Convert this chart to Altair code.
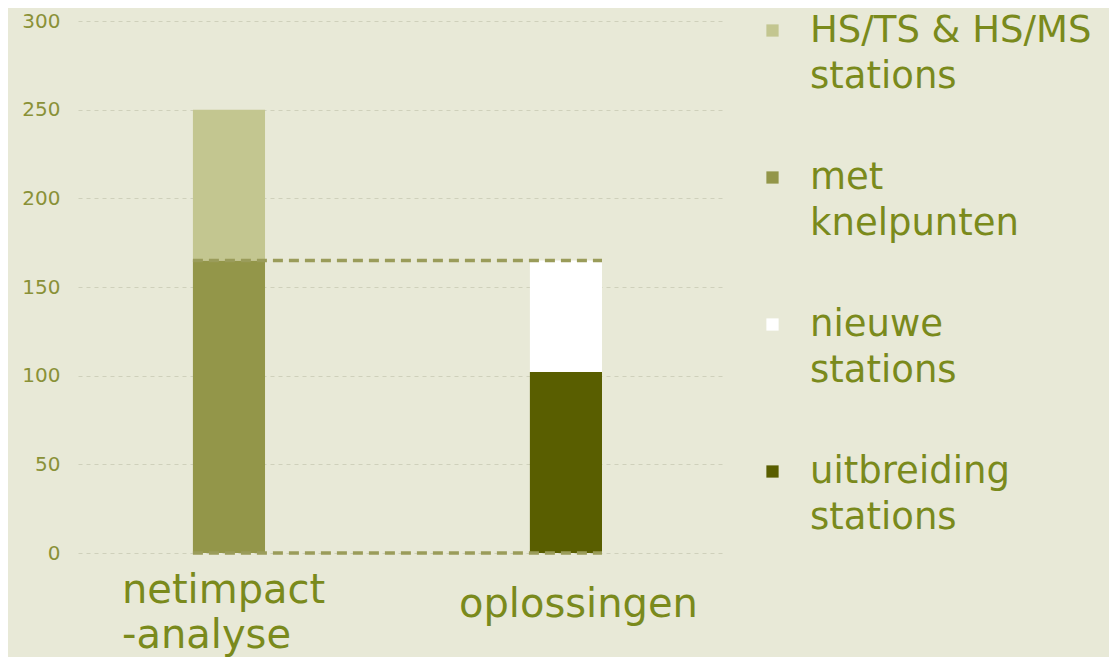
import altair as alt
import pandas as pd

categories = ["netimpact|-analyse", "netimpact|-analyse", "oplossingen", "oplossingen"]
series = ["met|knelpunten", "HS/TS & HS/MS|stations", "uitbreiding|stations", "nieuwe|stations"]
values = [165, 85, 102, 63]
stack_order = [1, 2, 1, 2]

legend_order = ["HS/TS & HS/MS|stations", "met|knelpunten", "nieuwe|stations", "uitbreiding|stations"]
legend_colors = ["#c3c690", "#939649", "#ffffff", "#595e00"]

ref_levels = [165, 0]
ref_start = ["netimpact|-analyse", "netimpact|-analyse"]
ref_end = ["oplossingen", "oplossingen"]

bars_df = pd.DataFrame({"cat": categories, "series": series, "value": values, "ord": stack_order})
ref_df = pd.DataFrame({"y": ref_levels, "x1": ref_start, "x2": ref_end})

cat_order = ["netimpact|-analyse", "oplossingen"]
bg = "#e8e9d7"
text_col = "#7a8a1c"

xscale = alt.Scale(domain=cat_order, paddingInner=0.786, paddingOuter=0.353, align=0.483)
yscale = alt.Scale(domain=[0, 300], nice=False)

bars = alt.Chart(bars_df).mark_bar().encode(
    x=alt.X("cat:N", scale=xscale, sort=cat_order, title=None,
            axis=alt.Axis(labelExpr="split(datum.label, '|')", labelAngle=0,
                          labelFontSize=40, labelColor=text_col, labelAlign="left",
                          labelOffset=-107, labelBaseline="middle",
                          labelPadding={"condition": {"test": "datum.value == 'oplossingen'", "value": 51},
                                        "value": 37},
                          labelLineHeight=45, labelLimit=500, domain=False, ticks=False,
                          grid=False, labelFont="DejaVu Sans")),
    y=alt.Y("value:Q", stack="zero", scale=yscale, title=None,
            axis=alt.Axis(values=[0, 50, 100, 150, 200, 250, 300], labelFontSize=20,
                          labelColor="#8a9137", labelPadding=18, minExtent=50, maxExtent=50,
                          labelLineHeight=22,
                          domain=False, ticks=False, grid=True, gridColor="#cfd0bb",
                          gridDash=[4, 4], gridWidth=1, labelFont="DejaVu Sans")),
    color=alt.Color("series:N", scale=alt.Scale(domain=legend_order, range=legend_colors),
                    legend=alt.Legend(title=None, labelExpr="split(datum.label, '|')",
                                      labelFontSize=37, labelColor=text_col, symbolType="square",
                                      symbolSize=150, symbolStrokeWidth=0, labelBaseline="middle",
                                      orient="none", legendX=676, legendY=-9, rowPadding=63,
                                      labelOffset=19, labelLimit=400, labelFont="DejaVu Sans")),
    order=alt.Order("ord:Q"),
)

rules = alt.Chart(ref_df).mark_rule(color="#9a9c5a", strokeWidth=3.5, strokeDash=[10, 6]).encode(
    x=alt.X("x1:N", scale=xscale, bandPosition=0),
    x2=alt.X2("x2:N", bandPosition=1),
    y=alt.Y("y:Q", scale=yscale),
)

chart = alt.layer(bars, rules).properties(
    width=647, height=532, background=bg,
    autosize=alt.AutoSizeParams(type="none"),
    padding={"left": 70, "top": 13, "right": 384, "bottom": 104},
).configure(style={"guide-label": {"lineHeight": 46}}, view={"stroke": None})

chart.save("out.html", embed_options={"renderer": "svg", "actions": False})
